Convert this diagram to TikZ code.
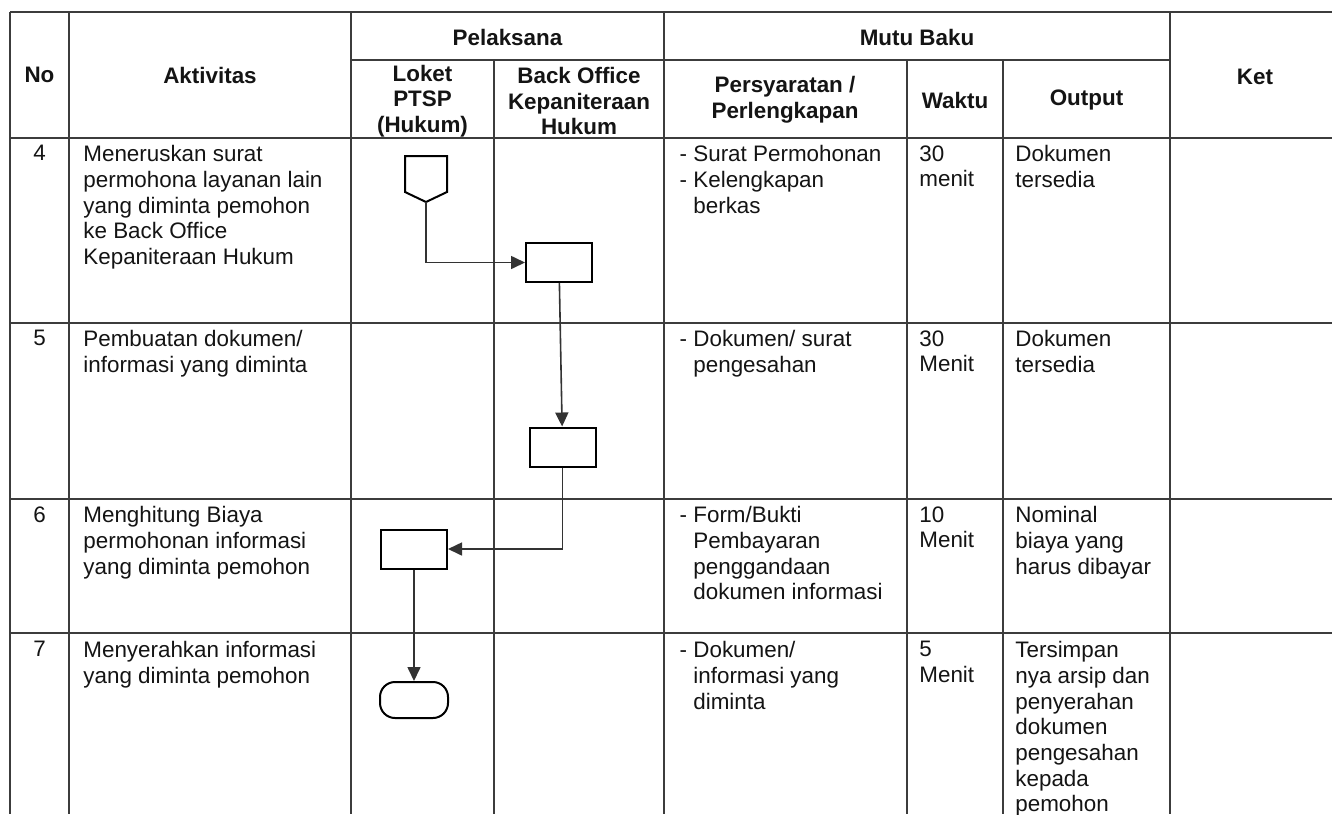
\documentclass[tikz,border=0pt]{standalone}
\usepackage{fontspec}
\setmainfont{Liberation Sans}
\definecolor{gridline}{HTML}{3C3C3C}
\definecolor{inktext}{HTML}{141414}
\usetikzlibrary{arrows.meta}

\begin{document}
\begin{tikzpicture}[x=0.5pt,y=-0.5pt,
  every node/.style={font=\fontsize{11.2}{12.85}\selectfont, text=inktext, inner sep=0pt},
  head/.style={font=\fontsize{11.2}{12.85}\selectfont\bfseries, align=center},
  cell/.style={anchor=north west, align=left},
  grid/.style={draw=gridline, line width=0.6pt},
  proc/.style={draw=black, line width=1pt, minimum width=33pt, minimum height=19.5pt},
  endbox/.style={draw=black, line width=1pt, minimum width=34pt, minimum height=18pt, rounded corners=7.5pt},
  flow/.style={draw=black!80, line width=0.8pt, -{Triangle[length=7pt,width=6.5pt]}}
]
\fill[white] (0,0) rectangle (1332,814);
\useasboundingbox (0,0) rectangle (1332,814);

% Table frame
\draw[grid] (10,12) -- (1332,12);
\draw[grid] (351,60) -- (1170,60);
\draw[grid] (10,138) -- (1332,138);
\draw[grid] (10,323) -- (1332,323);
\draw[grid] (10,499) -- (1332,499);
\draw[grid] (10,633) -- (1332,633);
\draw[grid] (10,12) -- (10,814);
\draw[grid] (69,12) -- (69,814);
\draw[grid] (351,12) -- (351,814);
\draw[grid] (494,60) -- (494,814);
\draw[grid] (664,12) -- (664,814);
\draw[grid] (907,60) -- (907,814);
\draw[grid] (1003,60) -- (1003,814);
\draw[grid] (1170,12) -- (1170,814);

% Header
\node[head] (hno) at (39.5,75) {No};
\node[head] (hakt) at (210,75) {Aktivitas};
\node[head] (hpel) at (507.5,37) {Pelaksana};
\node[head] (hmutu) at (917,37) {Mutu Baku};
\node[head] (hket) at (1255,77) {Ket};
\node[head] (hloket) at (422.5,101) {Loket\\PTSP\\(Hukum)};
\node[head] (hback) at (579,101) {Back Office\\Kepaniteraan\\Hukum};
\node[head] (hsyarat) at (785,100) {Persyaratan /\\Perlengkapan};
\node[head] (hwaktu) at (955,100) {Waktu};
\node[head] (houtput) at (1086.5,100) {Output};

% Row 4
\node[anchor=north] (n4) at (39.5,145) {4};
\node[cell] (a4) at (83,145) {Meneruskan surat\\permohona layanan lain\\yang diminta pemohon\\ke Back Office\\Kepaniteraan Hukum};
\node[cell] (p4) at (693,145) {\llap{- }Surat Permohonan\\\llap{- }Kelengkapan\\berkas};
\node[cell] (w4) at (919,145) {30\\menit};
\node[cell] (o4) at (1015,145) {Dokumen\\tersedia};

% Row 5
\node[anchor=north] (n5) at (39.5,330) {5};
\node[cell] (a5) at (83,330) {Pembuatan dokumen/\\informasi yang diminta};
\node[cell] (p5) at (693,330) {\llap{- }Dokumen/ surat\\pengesahan};
\node[cell] (w5) at (919,330) {30\\Menit};
\node[cell] (o5) at (1015,330) {Dokumen\\tersedia};

% Row 6
\node[anchor=north] (n6) at (39.5,506) {6};
\node[cell] (a6) at (83,506) {Menghitung Biaya\\permohonan informasi\\yang diminta pemohon};
\node[cell] (p6) at (693,506) {\llap{- }Form/Bukti\\Pembayaran\\penggandaan\\dokumen informasi};
\node[cell] (w6) at (919,506) {10\\Menit};
\node[cell] (o6) at (1015,506) {Nominal\\biaya yang\\harus dibayar};

% Row 7
\node[anchor=north] (n7) at (39.5,641) {7};
\node[cell] (a7) at (83,641) {Menyerahkan informasi\\yang diminta pemohon};
\node[cell] (p7) at (693,641) {\llap{- }Dokumen/\\informasi yang\\diminta};
\node[cell] (w7) at (919,641) {5\\Menit};
\node[cell] (o7) at (1015,641) {Tersimpan\\nya arsip dan\\penyerahan\\dokumen\\pengesahan\\kepada\\pemohon};

% Flow symbols
\draw[line width=1pt] (405,156) -- (447,156) -- (447,192) -- (426,202) -- (405,192) -- cycle;
\coordinate (start) at (426,202);
\node[proc] (kirim) at (559,262.5) {};
\node[proc] (buat) at (562.5,447) {};
\node[proc] (hitung) at (414,549) {};
\node[endbox] (serah) at (414,700) {};

% Connectors
\draw[flow] (start) |- (kirim);
\draw[flow] (kirim) -- (buat);
\draw[flow] (buat) |- (hitung);
\draw[flow] (hitung) -- (serah);
\end{tikzpicture}
\end{document}
